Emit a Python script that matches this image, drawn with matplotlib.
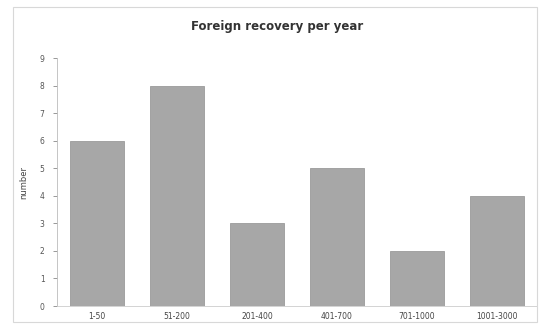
import matplotlib.pyplot as plt
from matplotlib.patches import Rectangle

# Data
categories = ['1-50', '51-200', '201-400', '401-700', '701-1000', '1001-3000']
counts = [6, 8, 3, 5, 2, 4]
y_ticks = [0, 1, 2, 3, 4, 5, 6, 7, 8, 9]

fig = plt.figure(figsize=(5.44, 3.28), dpi=100)
ax = fig.add_axes([0.105, 0.067, 0.882, 0.756])

x = range(len(categories))
ax.bar(x, counts, width=0.68, color='#a7a7a7', edgecolor='#9a9a9a', linewidth=0.6)

ax.set_xlim(-0.5, 5.5)
ax.set_ylim(0, 9)
ax.set_xticks(list(x))
ax.set_xticklabels(categories, fontsize=5.5, color='#444444')
ax.set_yticks(y_ticks)
ax.set_yticklabels([str(v) for v in y_ticks], fontsize=5.5, color='#555555')
ax.tick_params(axis='y', length=3, width=0.6, color='#888888', pad=6)
ax.tick_params(axis='x', length=0, pad=4)
ax.set_ylabel('number', fontsize=6, color='#444444', labelpad=8)

for side in ['top', 'right']:
    ax.spines[side].set_visible(False)
ax.spines['left'].set_color('#bbbbbb')
ax.spines['bottom'].set_color('#cccccc')
ax.spines['left'].set_linewidth(0.6)
ax.spines['bottom'].set_linewidth(0.6)

fig.text(0.51, 0.92, 'Foreign recovery per year', ha='center', va='center',
         fontsize=8.5, fontweight='bold', color='#333333')

# outer frame
fig.patches.append(Rectangle((0.024, 0.018), 0.964, 0.96, transform=fig.transFigure,
                             fill=False, edgecolor='#d8d8d8', linewidth=0.8))

fig.savefig('out.png', dpi=100)
